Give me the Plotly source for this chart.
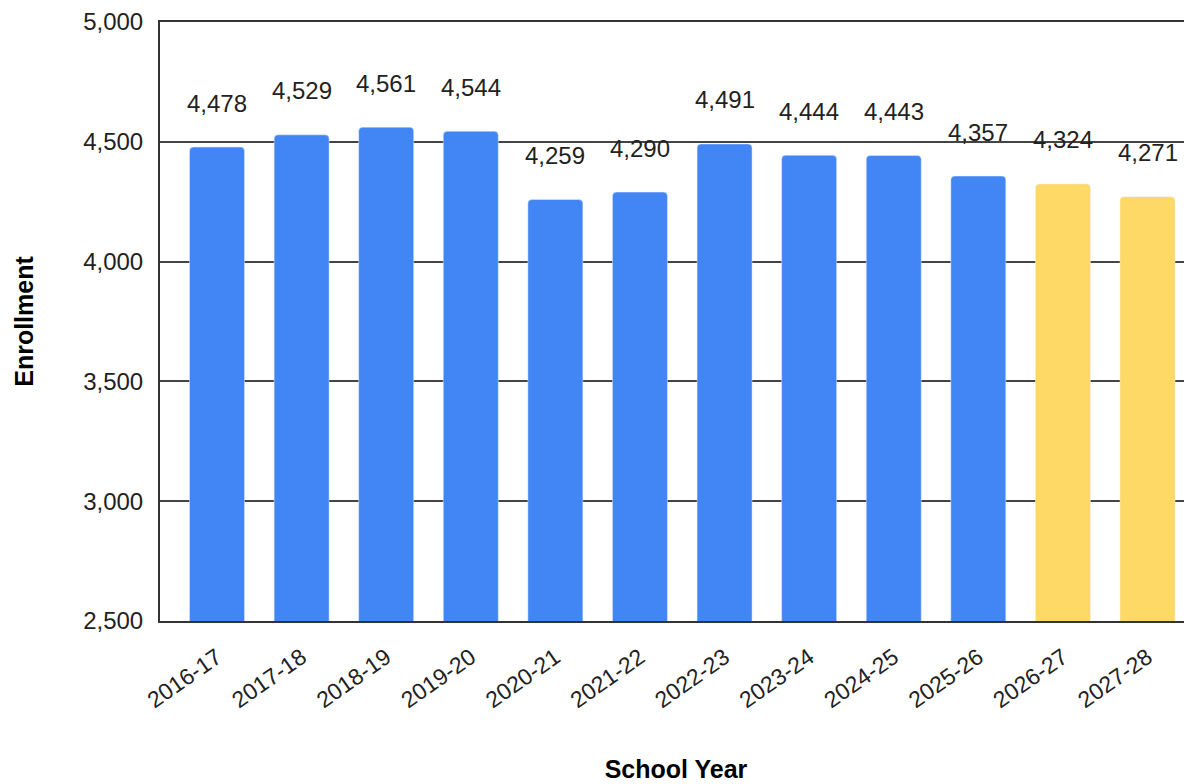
import plotly.graph_objects as go

# School-year enrollment, actual and projected
actual_years = ["2016-17", "2017-18", "2018-19", "2019-20", "2020-21", "2021-22",
                "2022-23", "2023-24", "2024-25", "2025-26"]
actual_enrollment = [4478, 4529, 4561, 4544, 4259, 4290, 4491, 4444, 4443, 4357]
projected_years = ["2026-27", "2027-28"]
projected_enrollment = [4324, 4271]

y_ticks = [2500, 3000, 3500, 4000, 4500, 5000]

BLUE = "#4285F4"
YELLOW = "#FFD966"
TEXT = "#222222"
LINE = "#333333"
FONT = "Liberation Sans, Arial"

fig = go.Figure()
fig.add_trace(go.Bar(x=actual_years, y=actual_enrollment, marker_color=BLUE,
                     hoverinfo="x+y", showlegend=False))
fig.add_trace(go.Bar(x=projected_years, y=projected_enrollment, marker_color=YELLOW,
                     hoverinfo="x+y", showlegend=False))

# value labels float above each bar
for xs, ys in ((actual_years, actual_enrollment), (projected_years, projected_enrollment)):
    for x, y in zip(xs, ys):
        fig.add_annotation(x=x, y=y, text=f"{y:,}", showarrow=False, yshift=44,
                           yanchor="middle", font=dict(family=FONT, size=24, color=TEXT))

# page body adds an 8px offset, so the figure is 8px smaller than the window
fig.update_layout(
    width=1184, height=776,
    margin=dict(l=152, r=0, t=14, b=163),
    plot_bgcolor="white", paper_bgcolor="white",
    barmode="overlay", bargap=0.35, barcornerradius=4,
    font=dict(family=FONT, size=22, color=TEXT),
)
fig.update_xaxes(
    categoryorder="array", categoryarray=actual_years + projected_years,
    range=[-0.674, 11.526], automargin=False,
    tickangle=-35, ticks="outside", ticklen=12, tickcolor="rgba(0,0,0,0)",
    tickfont=dict(family=FONT, size=23, color=TEXT),
    showline=True, mirror=True, linecolor=LINE, linewidth=2,
    title=dict(text="School Year", standoff=48,
               font=dict(family=FONT, size=25, color="black", weight="bold")),
)
fig.update_yaxes(
    range=[2500, 5000], tickvals=y_ticks, tickformat=",", automargin=False,
    ticklabeloverflow="allow",
    ticks="outside", ticklen=10, tickcolor="rgba(0,0,0,0)",
    tickfont=dict(family=FONT, size=24, color=TEXT),
    showgrid=True, gridcolor="#444444", gridwidth=1.5, zeroline=False,
    showline=True, linecolor=LINE, linewidth=2,
    title=dict(text="Enrollment", standoff=42,
               font=dict(family=FONT, size=25, color="black", weight="bold")),
)

fig.write_html("out.html")
